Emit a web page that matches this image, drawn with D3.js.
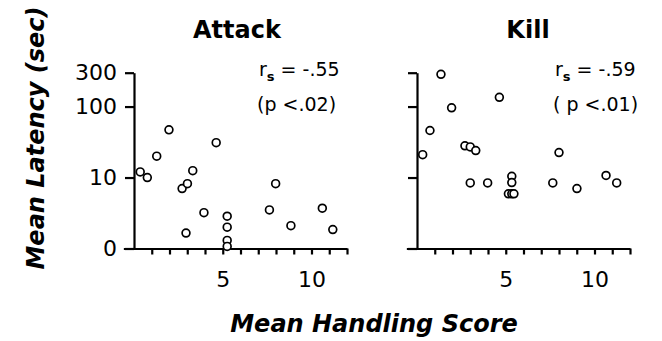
<!DOCTYPE html>
<html>
<head>
<script src="https://d3js.org/d3.v7.min.js"></script>
<style>
    body { margin: 0; background: white; }
    text { font-family: "DejaVu Sans", sans-serif; fill: black; }
</style>
</head>
<body>
<svg id="chart" width="662" height="341"></svg>
<script>
// Attack panel: mean handling score vs mean latency (sec)
var attackX = [0.35, 0.75, 1.28, 1.97, 2.71, 3.01, 3.31, 2.93, 3.94, 4.63, 5.25, 5.25, 5.25, 5.25, 7.63, 7.98, 8.84, 10.61, 11.2];
var attackY = [12, 10, 20, 47, 7.0, 8.2, 12.5, 1.65, 3.2, 31, 2.85, 2.0, 1.3, 1.07, 3.5, 8.2, 2.1, 3.7, 1.85];

// Kill panel
var killX = [0.32, 0.73, 1.35, 1.95, 2.7, 3.0, 3.31, 3.0, 3.98, 4.64, 5.34, 5.34, 5.15, 5.34, 5.46, 7.65, 8.0, 9.01, 10.65, 11.25];
var killY = [21, 46, 285, 96, 28, 27, 24, 8.4, 8.4, 135, 10.4, 8.5, 5.9, 5.9, 5.9, 8.4, 22.5, 7.0, 10.7, 8.4];

var yTicks = [1, 10, 100, 300];
var yTickLabels = ["0", "10", "100", "300"];
var xTicks = [1, 2, 3, 4, 5, 6, 7, 8, 9, 10, 11, 12];
var xTickLabels = {5: "5", 10: "10"};

var svg = d3.select("#chart");

function panel(opts) {
    var x = d3.scaleLinear()
        .domain([-0.6, 12])
        .range([opts.x0 - 0.6 * 17.75, opts.x0 + 12 * 17.75]);
    var y = d3.scaleLog()
        .domain([1, 300])
        .range([248.5, 72.7]);

    var g = svg.append("g");

    // x axis
    g.append("g")
        .attr("transform", "translate(0," + y(1) + ")")
        .call(d3.axisBottom(x)
            .tickValues(xTicks)
            .tickSize(6)
            .tickSizeOuter(0)
            .tickPadding(17)
            .tickFormat(function (d) { return xTickLabels[d] || ""; }));

    // y axis
    g.append("g")
        .attr("transform", "translate(" + x(0) + ",0)")
        .call(d3.axisLeft(y)
            .tickValues(yTicks)
            .tickSize(9)
            .tickSizeOuter(0)
            .tickPadding(8)
            .tickFormat(function (d, i) { return opts.labels ? yTickLabels[i] : ""; }));

    g.selectAll(".domain, .tick line")
        .attr("stroke", "black")
        .attr("stroke-width", 2.2);
    g.selectAll(".tick text")
        .attr("font-family", "DejaVu Sans")
        .attr("font-size", 22)
        .attr("fill", "black");

    // points
    g.selectAll("circle")
        .data(opts.xs.map(function (d, i) { return [d, opts.ys[i]]; }))
        .enter()
        .append("circle")
        .attr("cx", function (d) { return x(d[0]); })
        .attr("cy", function (d) { return y(d[1]); })
        .attr("r", 3.9)
        .attr("fill", "white")
        .attr("stroke", "black")
        .attr("stroke-width", 1.7);

    // title
    g.append("text")
        .attr("x", opts.titleX)
        .attr("y", 38)
        .attr("text-anchor", "middle")
        .attr("font-size", 24)
        .attr("font-weight", "bold")
        .text(opts.title);

    // correlation note
    var r = g.append("text")
        .attr("x", opts.noteX)
        .attr("y", 76)
        .attr("font-size", 19);
    r.append("tspan").text("r");
    r.append("tspan").attr("font-size", 13).attr("dy", 5).attr("font-weight", "bold").text("s");
    r.append("tspan").attr("dy", -5).text(" = " + opts.r);

    g.append("text")
        .attr("x", opts.noteX - 2)
        .attr("y", 111)
        .attr("font-size", 19)
        .text(opts.p);
}

panel({ x0: 134, xs: attackX, ys: attackY, labels: true, title: "Attack", titleX: 237,
        noteX: 259, r: "-.55", p: "(p <.02)" });
panel({ x0: 417, xs: killX, ys: killY, labels: false, title: "Kill", titleX: 528,
        noteX: 555, r: "-.59", p: "( p <.01)" });

// axis titles
svg.append("text")
    .attr("transform", "translate(44,138) rotate(-90)")
    .attr("text-anchor", "middle")
    .attr("font-size", 24)
    .attr("font-weight", "bold")
    .attr("font-style", "italic")
    .text("Mean Latency (sec)");

svg.append("text")
    .attr("x", 374)
    .attr("y", 332)
    .attr("text-anchor", "middle")
    .attr("font-size", 24)
    .attr("font-weight", "bold")
    .attr("font-style", "italic")
    .text("Mean Handling Score");
</script>
</body>
</html>
